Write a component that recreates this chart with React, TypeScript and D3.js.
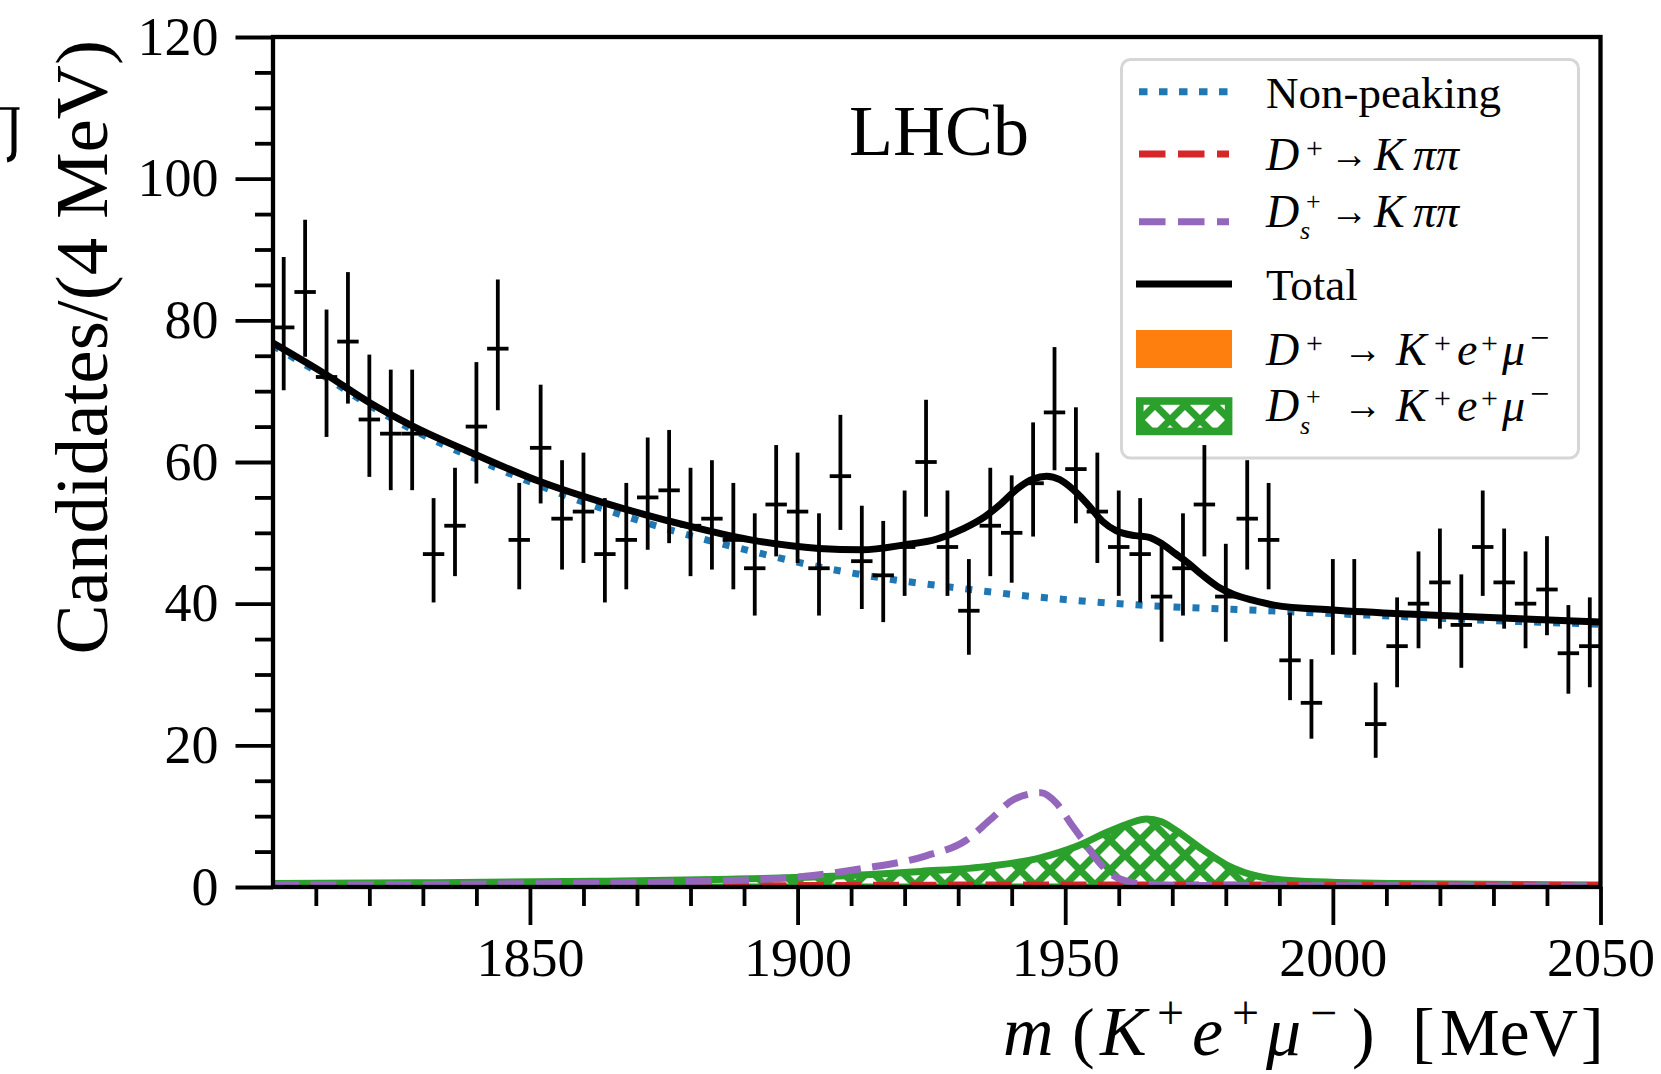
import React, { useEffect, useRef } from 'react'
import * as d3 from 'd3'

const serif = '"Liberation Serif", "DejaVu Serif", "Times New Roman", serif'

// 4 MeV bins from 1802 to 2050 MeV
const binLow = 1802
const binWidth = 4
const counts = [
  79, 84, 72, 77, 66, 64, 64, 47, 51, 65,
  76, 49, 62, 52, 53, 47, 49, 55, 56, 51,
  52, 49, 45, 54, 53, 45, 58, 46, 44, 48,
  60, 48, 39, 51, 50, 57, 67, 59, 53, 48,
  47, 41, 45, 54, 41, 52, 49, 32, 26, 39,
  39, 23, 34, 40, 43, 37, 48, 43, 40, 42,
  33, 34,
]

// fit components, [mass, candidates]
const nonPeaking: [number, number][] = [
  [1802, 76.4], [1812, 71.9], [1820, 68.0], [1828, 64.6], [1840, 60.4], [1852, 56.6],
  [1864, 53.3], [1880, 49.6], [1892, 47.3], [1904, 45.2], [1916, 43.6], [1928, 42.4],
  [1944, 41.0], [1964, 39.8], [1988, 39.0], [2000, 38.6], [2018, 38.0], [2034, 37.5], [2050, 37.1],
]
const total: [number, number][] = [
  [1802, 76.8], [1812, 72.3], [1820, 68.4], [1828, 65.1], [1840, 61.0], [1852, 57.2],
  [1864, 54.2], [1880, 50.9], [1892, 48.9], [1904, 47.8], [1912, 47.6], [1920, 48.3],
  [1926, 49.1], [1931, 50.6], [1935, 52.3], [1938, 54.1], [1941, 56.2], [1944, 57.6],
  [1946.5, 58.0], [1949, 57.5], [1951.5, 56.1], [1954, 54.2], [1957, 51.6], [1959.5, 50.3],
  [1963, 49.6], [1965.5, 49.4], [1968, 48.5], [1970.5, 47.1], [1973, 45.7], [1975.5, 44.1],
  [1978.5, 42.4], [1981.5, 41.3], [1985, 40.5], [1989, 39.8], [2000, 39.1], [2018, 38.4],
  [2037, 37.8], [2050, 37.4],
]
const dsKpipi: [number, number][] = [
  [1802, 0.3], [1837, 0.4], [1879, 0.75], [1900, 1.4], [1912, 2.6], [1924, 4.4],
  [1931.5, 6.6], [1936, 9.5], [1940.5, 12.4], [1945.5, 13.3], [1948.4, 11.8], [1951, 9.0],
  [1953.7, 6.2], [1956.4, 3.4], [1960, 1.2], [1965, 0.4], [1975, 0.2], [2050, 0.15],
]
const dpKpipi: [number, number][] = [
  [1802, 0.1], [1880, 0.15], [1920, 0.25], [1960, 0.3], [2000, 0.25], [2050, 0.2],
]
const dsKemu: [number, number][] = [
  [1802, 0.5], [1829, 0.6], [1862, 0.8], [1887.5, 1.1], [1904, 1.45], [1923, 2.2],
  [1936, 2.95], [1945, 4.05], [1952, 5.7], [1958, 7.8], [1962, 9.0], [1965.2, 9.6],
  [1968, 9.2], [1970.5, 8.1], [1975.8, 5.2], [1980.2, 3.1], [1986.4, 1.45], [1993.6, 0.85],
  [2011, 0.5], [2050, 0.3],
]
const dpKemu: [number, number][] = [[1802, 0.05], [2050, 0.05]]

const xMajor = [1850, 1900, 1950, 2000, 2050]
const yMajor = [0, 20, 40, 60, 80, 100, 120]
const xMinor = d3.range(1810, 2050, 10).filter(v => v % 50 !== 0)
const yMinor = d3.range(5, 120, 5).filter(v => v % 20 !== 0)

// Garwood (Poisson) 68% interval, Wilson-Hilferty form
const poissonLow = (n: number) => n <= 0 ? 0 : n * Math.pow(1 - 1 / (9 * n) - 1 / (3 * Math.sqrt(n)), 3)
const poissonUp = (n: number) => (n + 1) * Math.pow(1 - 1 / (9 * (n + 1)) + 1 / (3 * Math.sqrt(n + 1)), 3)

type Piece = { t: string, x: number, y: number, s: number, it?: boolean, len?: number }

const Pieces = ({ items }: { items: Piece[] }) => <>
  {items.map((p, i) =>
    <text key={i} x={p.x} y={p.y} fontSize={p.s} fontStyle={p.it ? 'italic' : 'normal'}
      textLength={p.len} lengthAdjust={p.len ? 'spacingAndGlyphs' : undefined}>{p.t}</text>)}
</>

const App = () => {
  const xAxisRef = useRef<SVGGElement>(null)
  const yAxisRef = useRef<SVGGElement>(null)

  const x = d3.scaleLinear().domain([1802, 2050]).range([273, 1600.5])
  const y = d3.scaleLinear().domain([0, 120]).range([887, 37])

  useEffect(() => {
    const gx = d3.select(xAxisRef.current)
    gx.selectAll('*').remove()
    gx.append('g').call(d3.axisBottom(x).tickValues(xMinor).tickSize(19).tickFormat(() => ''))
    gx.append('g').call(d3.axisBottom(x).tickValues(xMajor).tickSize(38).tickPadding(13).tickFormat(d3.format('d')))
    const gy = d3.select(yAxisRef.current)
    gy.selectAll('*').remove()
    gy.append('g').call(d3.axisLeft(y).tickValues(yMinor).tickSize(18).tickFormat(() => ''))
    gy.append('g').call(d3.axisLeft(y).tickValues(yMajor).tickSize(37.5).tickPadding(17).tickFormat(d3.format('d')))
    for (const g of [gx, gy]) {
      g.selectAll('.domain').remove()
      g.selectAll('line').attr('stroke', '#000').attr('stroke-width', 3.8)
      g.selectAll('text').attr('font-family', serif).attr('font-size', 54).attr('fill', '#000')
    }
  }, [])

  const line = d3.line<[number, number]>().x(d => x(d[0])).y(d => y(d[1])).curve(d3.curveMonotoneX)
  const area = d3.area<[number, number]>().x(d => x(d[0])).y0(y(0)).y1(d => y(d[1])).curve(d3.curveMonotoneX)

  const bins = counts.map((n, i) => {
    const lo = binLow + i * binWidth
    return { lo, hi: lo + binWidth, c: lo + binWidth / 2, n }
  })

  const legendText: Piece[] = [
    { t: 'Non-peaking', x: 1266, y: 108, s: 45 },
    { t: 'D', x: 1266, y: 170, s: 46, it: true },
    { t: '+', x: 1306, y: 158, s: 30 },
    { t: '\u2192', x: 1330, y: 168, s: 42, len: 38 },
    { t: 'K', x: 1374, y: 170, s: 46, it: true },
    { t: '\u03c0\u03c0', x: 1413, y: 170, s: 46, it: true },
    { t: 'D', x: 1266, y: 227, s: 46, it: true },
    { t: '+', x: 1306, y: 210, s: 26 },
    { t: 's', x: 1300, y: 239, s: 26, it: true },
    { t: '\u2192', x: 1330, y: 225, s: 42, len: 38 },
    { t: 'K', x: 1374, y: 227, s: 46, it: true },
    { t: '\u03c0\u03c0', x: 1413, y: 227, s: 46, it: true },
    { t: 'Total', x: 1266, y: 300, s: 45 },
    { t: 'D', x: 1266, y: 365, s: 46, it: true },
    { t: '+', x: 1306, y: 353, s: 30 },
    { t: '\u2192', x: 1343, y: 363, s: 42, len: 39 },
    { t: 'K', x: 1396, y: 365, s: 46, it: true },
    { t: '+', x: 1434, y: 353, s: 30 },
    { t: 'e', x: 1457, y: 365, s: 46, it: true },
    { t: '+', x: 1481, y: 353, s: 30 },
    { t: '\u03bc', x: 1502, y: 365, s: 46, it: true },
    { t: '\u2212', x: 1530, y: 349, s: 34 },
    { t: 'D', x: 1266, y: 421, s: 46, it: true },
    { t: '+', x: 1306, y: 405, s: 26 },
    { t: 's', x: 1300, y: 434, s: 26, it: true },
    { t: '\u2192', x: 1343, y: 419, s: 42, len: 39 },
    { t: 'K', x: 1396, y: 421, s: 46, it: true },
    { t: '+', x: 1434, y: 408, s: 30 },
    { t: 'e', x: 1457, y: 421, s: 46, it: true },
    { t: '+', x: 1481, y: 408, s: 30 },
    { t: '\u03bc', x: 1502, y: 421, s: 46, it: true },
    { t: '\u2212', x: 1530, y: 405, s: 34 },
  ]

  const xLabel: Piece[] = [
    { t: 'm', x: 1003, y: 1055, s: 70, it: true },
    { t: '(', x: 1072, y: 1055, s: 68 },
    { t: 'K', x: 1100, y: 1055, s: 70, it: true },
    { t: '+', x: 1157, y: 1029, s: 48 },
    { t: 'e', x: 1192, y: 1055, s: 70, it: true },
    { t: '+', x: 1232, y: 1029, s: 48 },
    { t: '\u03bc', x: 1266, y: 1055, s: 70, it: true },
    { t: '\u2212', x: 1310, y: 1029, s: 48 },
    { t: ')', x: 1352, y: 1055, s: 68 },
    { t: '[', x: 1412, y: 1055, s: 68 },
    { t: 'MeV', x: 1440, y: 1055, s: 68, len: 138 },
    { t: ']', x: 1581, y: 1055, s: 68 },
  ]

  return (
    <svg width={1661} height={1074} style={{ position: 'absolute', left: 0, top: 0, background: '#fff' }}
      fontFamily={serif}>
      <defs>
        <clipPath id="plot-clip">
          <rect x={273} y={37} width={1327.5} height={850} />
        </clipPath>
        <pattern id="xxhatch" patternUnits="userSpaceOnUse" width={30} height={30}>
          <path d="M0,0L30,30M0,30L30,0" stroke="#2ca02c" strokeWidth={7} />
        </pattern>
      </defs>
      <rect width={1661} height={1074} fill="#fff" />

      <g clipPath="url(#plot-clip)">
        <path d={area(dpKemu) ?? ''} fill="#ff7f0e" />
        <path d={area(dsKemu) ?? ''} fill="url(#xxhatch)" stroke="#2ca02c" strokeWidth={7} />
        <path d={line(nonPeaking) ?? ''} fill="none" stroke="#1f77b4" strokeWidth={7} strokeDasharray="7 12" />
        <path d={line(dpKpipi) ?? ''} fill="none" stroke="#d62728" strokeWidth={7} strokeDasharray="26 11.5" />
        <path d={line(dsKpipi) ?? ''} fill="none" stroke="#9467bd" strokeWidth={7} strokeDasharray="26 11.5" />
        <path d={line(total) ?? ''} fill="none" stroke="#000" strokeWidth={7} />
      </g>

      {/* legend */}
      <g>
        <rect x={1121.5} y={59.5} width={457} height={398.5} rx={9} fill="#fff" fillOpacity={0.8}
          stroke="#d6d6d6" strokeWidth={3} />
        <line x1={1139} x2={1232} y1={91.7} y2={91.7} stroke="#1f77b4" strokeWidth={7} strokeDasharray="8.5 11.5" />
        <line x1={1139} x2={1229} y1={154} y2={154} stroke="#d62728" strokeWidth={7} strokeDasharray="26.5 12.5" />
        <line x1={1139} x2={1229} y1={221.7} y2={221.7} stroke="#9467bd" strokeWidth={7} strokeDasharray="26.5 12.5" />
        <line x1={1136} x2={1232} y1={284} y2={284} stroke="#000" strokeWidth={7} />
        <rect x={1136} y={330} width={96} height={38} fill="#ff7f0e" />
        <rect x={1139.8} y={401} width={88.8} height={30.4} fill="url(#xxhatch)" stroke="#2ca02c" strokeWidth={7.6} />
        <g fill="#000"><Pieces items={legendText} /></g>
      </g>

      {/* data with Poisson errors */}
      <g stroke="#000" strokeWidth={3.8}>
        {bins.map((b, i) => (
          <g key={i}>
            <line x1={x(b.c)} x2={x(b.c)} y1={y(poissonUp(b.n))} y2={y(poissonLow(b.n))} />
            <line x1={x(b.lo)} x2={x(b.hi)} y1={y(b.n)} y2={y(b.n)} />
          </g>
        ))}
      </g>

      <rect x={273} y={37} width={1327.5} height={850} fill="none" stroke="#000" strokeWidth={4.3} />
      <g ref={xAxisRef} transform="translate(0,887)" />
      <g ref={yAxisRef} transform="translate(273,0)" />

      <text x={849} y={155} fontSize={72}>LHCb</text>

      <text transform="translate(107,40) rotate(-90)" textAnchor="end" fontSize={75}>Candidates/(4 MeV)</text>
      <g fill="#000"><Pieces items={xLabel} /></g>

      {/* clipped glyph at the left edge */}
      <path d="M0,108.5H19.5" stroke="#000" strokeWidth={2.5} fill="none" />
      <path d="M14,108V151Q14,159 7,160" stroke="#000" strokeWidth={5} fill="none" />
    </svg>
  )
}

export default App
